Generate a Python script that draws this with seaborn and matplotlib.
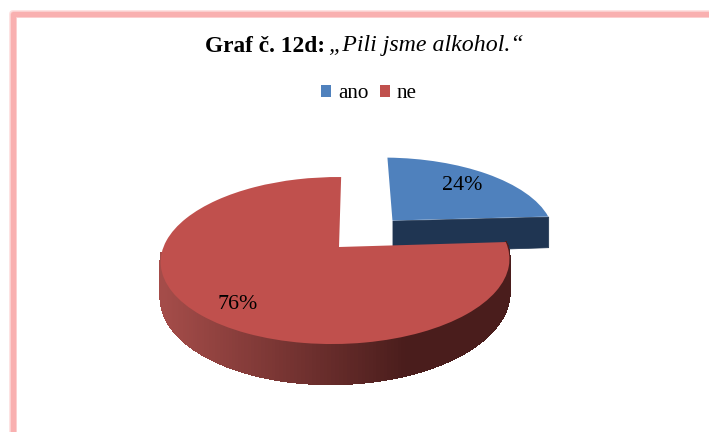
import numpy as np
import matplotlib
matplotlib.use("Agg")
import matplotlib.pyplot as plt
import matplotlib.transforms as mtrans
from matplotlib.collections import PolyCollection
import seaborn as sns

categories = ["ano", "ne"]
values = [24, 76]
top_colors = ["#4F81BD", "#C0504D"]
side_blue = "#1F3552"
side_red = ["#A44C49", "#4A1D1C"]

sns.set_theme(style="white")
plt.rcParams["font.family"] = ["Liberation Serif", "DejaVu Serif"]

PX, PY = 339.0, 247.0
A, B, SH, K, J, DEPTH = 172.0, 81.3, 2.5, 0.162, 0.02, 33.5
EXPLODE = [0.475, 0.0]
START = 90.0


def project(u, v, z=0.0):
    w = 1 + K * v + J * u
    return PX + (A * u + SH * v) / w, PY - B * v / w + z * DEPTH / w


class Persp(mtrans.Transform):
    input_dims = output_dims = 2
    is_affine = False

    def transform_non_affine(self, pts):
        pts = np.asarray(pts, float)
        x, y = project(pts[:, 0], pts[:, 1])
        return np.column_stack([x, y])


fig = plt.figure(figsize=(7.09, 4.32), dpi=100, facecolor="white")
ax = fig.add_axes([0, 0, 1, 1])

wedges, _, autotexts = ax.pie(
    values, explode=EXPLODE, colors=top_colors, startangle=START, counterclock=False,
    autopct=lambda p: f"{p:.0f}%", pctdistance=0.72, wedgeprops={"linewidth": 0},
    frame=True, textprops={"fontsize": 15.8, "color": "black"}, normalize=True,
)
ax.set_aspect("auto")
ax.set_xlim(0, 709)
ax.set_ylim(432, 0)
ax.set_axis_off()

persp = Persp() + ax.transData
for w in wedges:
    w.set_transform(persp)
    w.set_zorder(4)
for t in autotexts:
    t.set_transform(persp)
    t.set_zorder(6)
x76, y76 = autotexts[1].get_position()
autotexts[1].set_position((x76 - 0.02, y76 - 0.1))

# sides of the slices, derived from the same values
cut = START - 360 * values[0] / sum(values)
mid = np.radians(START - 180 * values[0] / sum(values))
ox, oy = EXPLODE[0] * np.cos(mid), EXPLODE[0] * np.sin(mid)
ux, uy = ox + np.cos(np.radians(cut)), oy + np.sin(np.radians(cut))
blue = [project(ox, oy), project(ux, uy), project(ux, uy, 1), project(ox, oy, 1)]
ax.add_collection(PolyCollection([blue], facecolors=side_blue, edgecolors=side_blue, linewidths=0.5, zorder=2))

ang = np.radians(np.linspace(-176, cut, 170))
quads, cols = [], []
c0, c1 = np.array(matplotlib.colors.to_rgb(side_red[0])), np.array(matplotlib.colors.to_rgb(side_red[1]))
for a0, a1 in zip(ang[:-1], ang[1:]):
    p = [project(np.cos(a0), np.sin(a0)), project(np.cos(a1), np.sin(a1)),
         project(np.cos(a1), np.sin(a1), 1), project(np.cos(a0), np.sin(a0), 1)]
    quads.append(p)
    f = np.clip((p[0][0] - 165) / (405 - 165), 0, 1)
    cols.append(c0 + (c1 - c0) * f)
ax.add_collection(PolyCollection(quads, facecolors=cols, edgecolors=cols, linewidths=1.0,
                                 antialiaseds=False, zorder=3))

# legend
ax.legend(wedges, categories, ncol=2, frameon=False, loc="center",
          bbox_to_anchor=(369 / 709, 1 - 94 / 432), bbox_transform=fig.transFigure,
          fontsize=15.2, handlelength=0.48, handleheight=0.48, handletextpad=0.32,
          columnspacing=0.55, borderpad=0, labelcolor="black")

# title in two styles
ax.text(205, 46, "Graf č. 12d:", fontsize=16.8, fontweight="bold", color="black", ha="left", va="center")
ax.text(329, 46, "„Pili jsme alkohol.“", fontsize=17.2, fontstyle="italic", color="black", ha="left", va="center")

# pink frame with soft edges
for lw, col in [(8, "#FDE3E3"), (6.5, "#FBC9C9"), (5, "#F9B0B0")]:
    ax.plot([709, 13, 13], [14, 14, 432], color=col, lw=lw * 0.72, solid_joinstyle="round", zorder=1)

fig.savefig("out.png", dpi=100, facecolor="white")
